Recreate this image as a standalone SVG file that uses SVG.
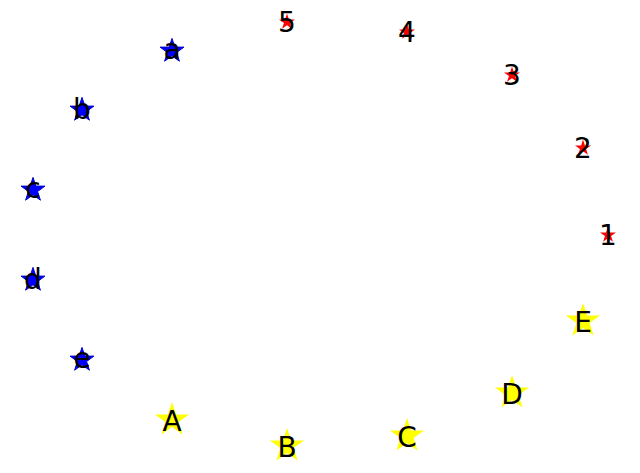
<svg xmlns="http://www.w3.org/2000/svg" width="640" height="473" viewBox="0 0 640 473">
<style>
.lbl{font-family:"DejaVu Sans",sans-serif;font-size:28px;fill:#000;text-anchor:middle}
.b{fill:#0000ff;stroke:#0000cc;stroke-width:1}
.r{fill:#ff0000}
.y{fill:#ffff00}
</style>
<defs>
<path id="sb" d="M0,-12.6 L2.83,-3.89 L11.98,-3.89 L4.58,1.49 L7.41,10.19 L0,4.81 L-7.41,10.19 L-4.58,1.49 L-11.98,-3.89 L-2.83,-3.89 Z"/>
<path id="sr" d="M0,-8.4 L1.89,-2.6 L7.99,-2.6 L3.05,0.99 L4.94,6.8 L0,3.21 L-4.94,6.8 L-3.05,0.99 L-7.99,-2.6 L-1.89,-2.6 Z"/>
<path id="sy" d="M0,-18 L4.04,-5.56 L17.12,-5.56 L6.54,2.12 L10.58,14.56 L0,6.88 L-10.58,14.56 L-6.54,2.12 L-17.12,-5.56 L-4.04,-5.56 Z"/>
</defs>
<g id="connectors"/>
<g id="node-a"><use href="#sb" class="b" x="172" y="51"/><text class="lbl" x="172" y="59">a</text></g>
<g id="node-b"><use href="#sb" class="b" x="82" y="110"/><text class="lbl" x="82" y="119">b</text></g>
<g id="node-c"><use href="#sb" class="b" x="33" y="190"/><text class="lbl" x="33" y="198">c</text></g>
<g id="node-d"><use href="#sb" class="b" x="33" y="280"/><text class="lbl" x="33" y="289">d</text></g>
<g id="node-e"><use href="#sb" class="b" x="82" y="360"/><text class="lbl" x="82" y="368">e</text></g>
<g id="node-1"><use href="#sr" class="r" x="608" y="235"/><text class="lbl" x="608" y="245">1</text></g>
<g id="node-2"><use href="#sr" class="r" x="583" y="148"/><text class="lbl" x="583" y="158">2</text></g>
<g id="node-3"><use href="#sr" class="r" x="512" y="75"/><text class="lbl" x="512" y="85">3</text></g>
<g id="node-4"><use href="#sr" class="r" x="407" y="32"/><text class="lbl" x="407" y="42">4</text></g>
<g id="node-5"><use href="#sr" class="r" x="287" y="22"/><text class="lbl" x="287" y="32">5</text></g>
<g id="node-A"><use href="#sy" class="y" x="172" y="420"/><text class="lbl" x="172" y="431">A</text></g>
<g id="node-B"><use href="#sy" class="y" x="287" y="446"/><text class="lbl" x="287" y="457">B</text></g>
<g id="node-C"><use href="#sy" class="y" x="407" y="436"/><text class="lbl" x="407" y="447">C</text></g>
<g id="node-D"><use href="#sy" class="y" x="512" y="393"/><text class="lbl" x="512" y="404">D</text></g>
<g id="node-E"><use href="#sy" class="y" x="583" y="321"/><text class="lbl" x="583" y="332">E</text></g>
</svg>
